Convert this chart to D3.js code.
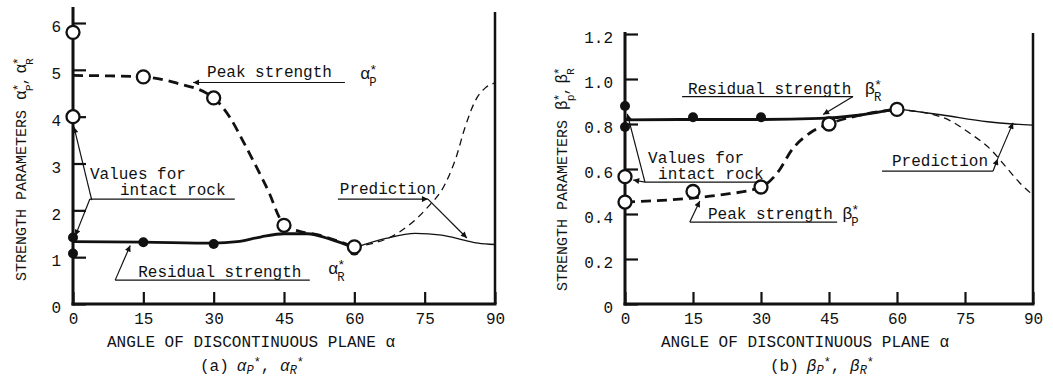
<!DOCTYPE html>
<html><head><meta charset="utf-8">
<script src="https://cdn.jsdelivr.net/npm/d3@7"></script>
<style>
html,body{margin:0;padding:0;background:#fff;}
svg{display:block;}
text{font-family:"Liberation Mono","DejaVu Sans Mono",monospace;fill:#111;}
</style></head><body>
<svg id="chart" width="1053" height="386"></svg>
<script>
// ---------- shared angle axis ----------
const angleTicks = [0, 15, 30, 45, 60, 75, 90];

// ---------- panel (a): alpha_P*, alpha_R* ----------
const alphaTicks = [0, 1, 2, 3, 4, 5, 6];
const alphaPeakObs = [[0, 5.8], [0, 4.0], [15, 4.85], [30, 4.4], [45, 1.68], [60, 1.22]];
const alphaResObs  = [[0, 1.42], [0, 1.08], [15, 1.32], [30, 1.28], [60, 1.14]];
const alphaPeakCurve = [[0, 4.88], [8, 4.87], [15, 4.85], [22, 4.72], [30, 4.4], [33.5, 3.98], [36.2, 3.49],
  [39.2, 2.91], [41.9, 2.36], [44, 1.85], [45, 1.68], [48.3, 1.55], [52.5, 1.47], [56, 1.36], [60, 1.22]];
const alphaResCurve  = [[0, 1.33], [15, 1.32], [30, 1.3], [35, 1.33], [40, 1.43], [45, 1.5], [50, 1.5],
  [55, 1.38], [60, 1.2]];
const alphaPeakPred  = [[60, 1.22], [69.5, 1.53], [75.4, 2.04], [79.4, 2.57], [81.7, 3.13], [83.6, 3.77],
  [85.8, 4.34], [88, 4.62], [90, 4.72]];
const alphaResPred   = [[60, 1.2], [66.7, 1.4], [73, 1.51], [78.6, 1.47], [83.6, 1.36], [86.4, 1.3], [90, 1.27]];

// ---------- panel (b): beta_P*, beta_R* ----------
const betaTicks = [0, 0.2, 0.4, 0.6, 0.8, 1.0, 1.2];
const betaPeakObs = [[0, 0.566], [0, 0.453], [15, 0.50], [30, 0.52], [45, 0.80], [60, 0.865]];
const betaResObs  = [[0, 0.88], [0, 0.787], [15, 0.83], [30, 0.83]];
const betaPeakCurve = [[0, 0.453], [14.3, 0.47], [21, 0.485], [30, 0.52], [33.5, 0.58], [37, 0.69],
  [40.8, 0.76], [45, 0.80], [52, 0.84], [60, 0.865]];
const betaResCurve  = [[0, 0.818], [15, 0.82], [30, 0.82], [43, 0.825], [52, 0.84], [60, 0.868]];
const betaPeakPred  = [[60, 0.865], [70, 0.83], [76, 0.76], [81, 0.68], [84, 0.61], [87, 0.54], [90, 0.484]];
const betaResPred   = [[60, 0.868], [70, 0.84], [80, 0.81], [85.6, 0.80], [90, 0.795]];

// ---------- annotation callouts (angle, value units) ----------
const alphaLabels = [
  {t: "Peak strength", x: 28.6, y: 4.85},
  {t: "Values for", x: 3.6, y: 2.67},
  {t: "intact rock", x: 10.0, y: 2.33},
  {t: "Residual strength", x: 13.9, y: 0.58},
  {t: "Prediction", x: 56.9, y: 2.35}
];
const alphaLeaders = [ // [x1, y1, x2, y2, arrow]
  [58.0, 4.73, 25.6, 4.73, 1],
  [3.6, 2.24, 34.5, 2.24, 0],
  [4.0, 2.22, 0.2, 3.78, 1],
  [3.6, 2.24, 0.5, 1.46, 1],
  [50.5, 0.51, 9.0, 0.51, 0],
  [9.0, 0.51, 12.2, 1.25, 1],
  [56.5, 2.24, 75.7, 2.24, 1],
  [75.7, 2.24, 84.0, 1.41, 1]
];
const alphaSymbols = [
  {base: "\u03b1", sup: "*", sub: "P", x: 61.2, y: 4.80},
  {base: "\u03b1", sup: "*", sub: "R", x: 54.4, y: 0.64}
];

const betaLabels = [
  {t: "Residual strength", x: 13.9, y: 0.935},
  {t: "Values for", x: 5.1, y: 0.627},
  {t: "intact rock", x: 7.3, y: 0.556},
  {t: "Peak strength", x: 18.3, y: 0.378},
  {t: "Prediction", x: 58.9, y: 0.613}
];
const betaLeaders = [
  [12.6, 0.922, 50.3, 0.922, 0],
  [50.3, 0.922, 43.7, 0.842, 1],
  [30.4, 0.542, 4.4, 0.542, 0],
  [4.4, 0.542, 1.8, 0.551, 1],
  [4.4, 0.542, 0.5, 0.845, 1],
  [46.8, 0.364, 14.3, 0.364, 0],
  [14.3, 0.364, 16.5, 0.458, 1],
  [56.7, 0.591, 81.2, 0.591, 0],
  [81.2, 0.591, 82.2, 0.645, 1],
  [82.2, 0.645, 85.6, 0.805, 1]
];
const betaSymbols = [
  {base: "\u03b2", sup: "*", sub: "R", x: 52.9, y: 0.933},
  {base: "\u03b2", sup: "*", sub: "P", x: 47.9, y: 0.378}
];

const svg = d3.select("#chart");
const ink = "#111";

svg.append("defs").append("marker")
  .attr("id", "arrow").attr("viewBox", "0 0 10 10")
  .attr("refX", 10).attr("refY", 5)
  .attr("markerWidth", 9).attr("markerHeight", 6)
  .attr("markerUnits", "userSpaceOnUse").attr("orient", "auto")
  .append("path").attr("d", "M0,0L10,5L0,10z").attr("fill", ink);

// base letter with a star above and a subscript below it
function symbol(g, x, y, s, size) {
  const b = g.append("text").attr("x", x).attr("y", y)
    .attr("font-family", "Liberation Serif, serif").attr("font-size", size).text(s.base);
  const w = b.node().getComputedTextLength();
  g.append("text").attr("x", x + w - 1).attr("y", y - size * 0.28)
    .attr("font-family", "Liberation Serif, serif").attr("font-size", size * 0.8).text(s.sup);
  g.append("text").attr("x", x + w - 1).attr("y", y + size * 0.42)
    .attr("font-size", size * 0.72).text(s.sub);
  return x + w + size * 0.55;
}

function panel(cfg) {
  const x = d3.scaleLinear().domain([0, 90]).range(cfg.xr);
  const y = d3.scaleLinear().domain(cfg.yd).range(cfg.yr);
  const g = svg.append("g");
  const base = y(0);

  // y ticks (pointing inward)
  const ya = g.append("g").attr("transform", `translate(${x(0)},0)`)
    .call(d3.axisLeft(y).tickValues(cfg.yTicks).tickSize(-13).tickPadding(12).tickFormat(cfg.fmt));
  // x ticks (pointing inward)
  const xa = g.append("g").attr("transform", `translate(0,${base})`)
    .call(d3.axisBottom(x).tickValues(angleTicks).tickSize(-12).tickPadding(9));
  [ya, xa].forEach(a => {
    a.select(".domain").remove();
    a.attr("font-family", null).attr("font-size", null);
    a.selectAll("line").attr("stroke", ink).attr("stroke-width", 2.2);
    a.selectAll("text").attr("font-size", 16).attr("fill", ink);
  });
  ya.selectAll("text").attr("dy", "0.55em");

  // frame: left axis, bottom axis, right border
  g.append("line").attr("x1", x(0)).attr("x2", x(0)).attr("y1", cfg.axisTop).attr("y2", base + 1.5)
    .attr("stroke", ink).attr("stroke-width", 3);
  g.append("line").attr("x1", x(0) - 1.5).attr("x2", x(90) + 1.5).attr("y1", base).attr("y2", base)
    .attr("stroke", ink).attr("stroke-width", 3);
  g.append("line").attr("x1", x(90)).attr("x2", x(90)).attr("y1", cfg.borderTop).attr("y2", base)
    .attr("stroke", ink).attr("stroke-width", 2.5);

  const line = d3.line().x(d => x(d[0])).y(d => y(d[1])).curve(d3.curveMonotoneX);
  const path = (data, w, dash) => g.append("path").attr("d", line(data)).attr("fill", "none")
    .attr("stroke", ink).attr("stroke-width", w).attr("stroke-dasharray", dash);

  path(cfg.resPred, 1.3, null);
  path(cfg.peakPred, 1.3, "7,5");
  path(cfg.resCurve, 2.8, null);
  path(cfg.peakCurve, 2.8, "10,6");

  // callout leaders and underlines
  g.selectAll(".leader").data(cfg.leaders).join("line")
    .attr("x1", d => x(d[0])).attr("y1", d => y(d[1]))
    .attr("x2", d => x(d[2])).attr("y2", d => y(d[3]))
    .attr("stroke", ink).attr("stroke-width", 1.2)
    .attr("marker-end", d => d[4] ? "url(#arrow)" : null);

  // observed points
  g.selectAll(".res").data(cfg.resObs).join("circle")
    .attr("cx", d => x(d[0])).attr("cy", d => y(d[1])).attr("r", 5).attr("fill", ink);
  g.selectAll(".peak").data(cfg.peakObs).join("circle")
    .attr("cx", d => x(d[0])).attr("cy", d => y(d[1])).attr("r", 6.5)
    .attr("fill", "#fff").attr("stroke", ink).attr("stroke-width", 2.3);

  // callout text
  g.selectAll(".lbl").data(cfg.labels).join("text")
    .attr("x", d => x(d.x)).attr("y", d => y(d.y)).attr("font-size", 16).text(d => d.t);
  cfg.symbols.forEach(s => symbol(g, x(s.x), y(s.y), s, 17));

  // axis title
  g.append("text").attr("x", cfg.titleX).attr("y", 347).attr("text-anchor", "middle")
    .attr("font-size", 16).text("ANGLE OF DISCONTINUOUS PLANE \u03b1");

  // rotated y title
  const yt = g.append("g").attr("transform", `translate(${cfg.yTitleX},${cfg.yTitleY}) rotate(-90)`);
  const inner = yt.append("g");
  const main = inner.append("text").attr("x", 0).attr("y", 0).attr("font-size", 15)
    .text("STRENGTH PARAMETERS");
  let cx = main.node().getComputedTextLength() + 10;
  cx = symbol(inner, cx, 0, {base: cfg.greek, sup: "*", sub: cfg.sub1}, 16);
  inner.append("text").attr("x", cx - 4).attr("y", 0).attr("font-size", 15).text(",");
  cx = symbol(inner, cx + 8, 0, {base: cfg.greek, sup: "*", sub: "R"}, 16);
  inner.attr("transform", `translate(${-cx / 2},0)`);

  // caption
  const cap = g.append("text").attr("x", cfg.capX).attr("y", 371)
    .attr("font-family", "Liberation Serif, serif").attr("font-size", 16);
  cap.append("tspan").text(cfg.capTag + "\u2002");
  const part = (sub, tail) => {
    cap.append("tspan").attr("font-style", "italic").text(cfg.greek);
    cap.append("tspan").attr("font-style", "italic").attr("font-size", 12).attr("dy", 3).text(sub);
    cap.append("tspan").attr("font-size", 12).attr("dy", -8).text("*");
    cap.append("tspan").attr("dy", 5).text(tail);
  };
  part("P", ", ");
  part("R", "");
}

panel({
  xr: [73, 495], yd: [0, 6], yr: [304, 23], axisTop: 7, borderTop: 12,
  yTicks: alphaTicks, fmt: d3.format("d"),
  peakObs: alphaPeakObs, resObs: alphaResObs,
  peakCurve: alphaPeakCurve, resCurve: alphaResCurve,
  peakPred: alphaPeakPred, resPred: alphaResPred,
  labels: alphaLabels, leaders: alphaLeaders, symbols: alphaSymbols,
  titleX: 251, yTitleX: 26, yTitleY: 168, greek: "\u03b1", sub1: "P",
  capX: 200, capTag: "(a)"
});

panel({
  xr: [625, 1033], yd: [0, 1.2], yr: [304, 34], axisTop: 32, borderTop: 33,
  yTicks: betaTicks, fmt: d => d === 0 ? "0" : d3.format(".1f")(d),
  peakObs: betaPeakObs, resObs: betaResObs,
  peakCurve: betaPeakCurve, resCurve: betaResCurve,
  peakPred: betaPeakPred, resPred: betaResPred,
  labels: betaLabels, leaders: betaLeaders, symbols: betaSymbols,
  titleX: 805, yTitleX: 567, yTitleY: 178, greek: "\u03b2", sub1: "p",
  capX: 770, capTag: "(b)"
});
</script>
</body></html>
